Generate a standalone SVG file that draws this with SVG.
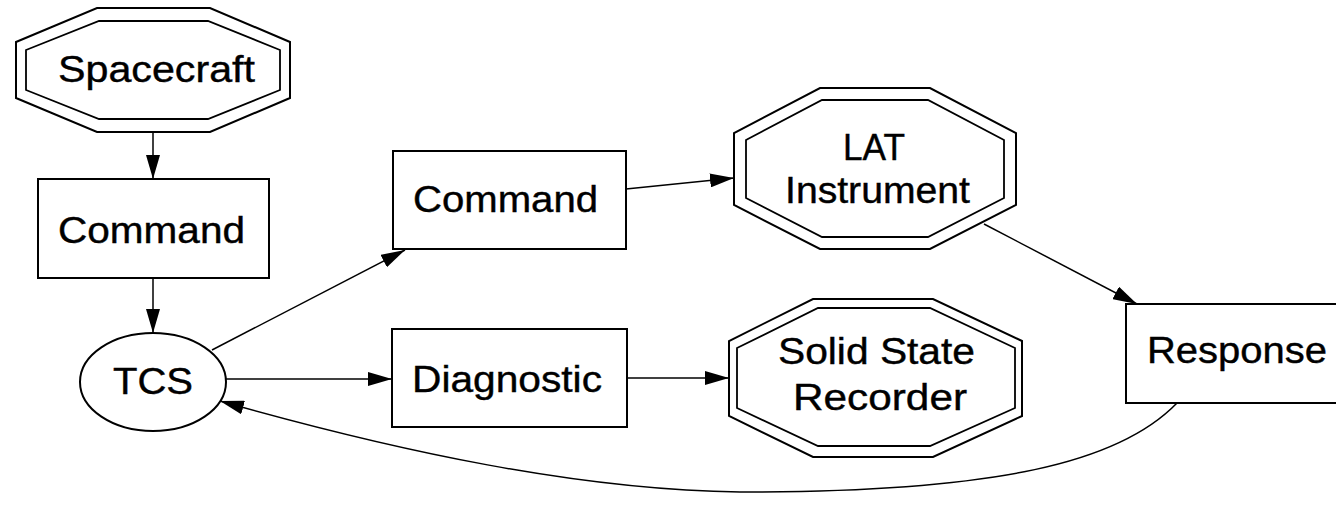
<svg xmlns="http://www.w3.org/2000/svg" width="1336" height="508" viewBox="0 0 1336 508">
  <style>
    .shape { fill: #ffffff; stroke: #000000; stroke-width: 2; }
    .ring { fill: none; stroke: #000000; stroke-width: 1.8; }
    .edge { fill: none; stroke: #000000; stroke-width: 1.5; }
    .label { font-family: "Liberation Sans", Arial, sans-serif; font-size: 36px; fill: #000000; stroke: #000000; stroke-width: 0.4; }
  </style>
  <defs>
    <marker id="arrow" viewBox="0 0 24 14" refX="24" refY="7" markerWidth="24" markerHeight="14" markerUnits="userSpaceOnUse" orient="auto">
      <path d="M0,0 L24,7 L0,14 z" fill="#000000"/>
    </marker>
  </defs>
  <rect width="1336" height="508" fill="#ffffff"/>

  <!-- connectors -->
  <g id="edges">
    <path class="edge" d="M153,132 L153,179" marker-end="url(#arrow)"/>
    <path class="edge" d="M153,278 L153,333" marker-end="url(#arrow)"/>
    <path class="edge" d="M212,350 L405,250" marker-end="url(#arrow)"/>
    <path class="edge" d="M226,379 L392,379" marker-end="url(#arrow)"/>
    <path class="edge" d="M626,189 L734,178" marker-end="url(#arrow)"/>
    <path class="edge" d="M627,378 L729,378" marker-end="url(#arrow)"/>
    <path class="edge" d="M984,224 L1137,304" marker-end="url(#arrow)"/>
    <path class="edge" d="M1177,403 C1120,462 1000,492 740,492 C580,490 400,452 220,401" marker-end="url(#arrow)"/>
  </g>

  <!-- nodes -->
  <g id="spacecraft">
    <polygon class="shape" points="97,8 210,8 290,42 290,98 210,132 97,132 16,98 16,42"/>
    <polygon class="ring" points="99,21 208,21 280,50 280,90 208,119 99,119 26,90 26,50"/>
    <text class="label" x="58" y="82" textLength="197" lengthAdjust="spacingAndGlyphs">Spacecraft</text>
  </g>

  <g id="command-1">
    <rect class="shape" x="38" y="179" width="231" height="99"/>
    <text class="label" x="58" y="243" textLength="187" lengthAdjust="spacingAndGlyphs">Command</text>
  </g>

  <g id="tcs">
    <ellipse class="shape" cx="153" cy="382" rx="73" ry="49"/>
    <text class="label" x="113" y="394" textLength="80" lengthAdjust="spacingAndGlyphs">TCS</text>
  </g>

  <g id="command-2">
    <rect class="shape" x="393" y="151" width="233" height="98"/>
    <text class="label" x="413" y="212" textLength="185" lengthAdjust="spacingAndGlyphs">Command</text>
  </g>

  <g id="lat-instrument">
    <polygon class="shape" points="820,88 930,88 1016,133 1016,205 930,249 820,249 734,205 734,133"/>
    <polygon class="ring" points="822,100 928,100 1004,140 1004,198 928,237 822,237 746,198 746,140"/>
    <text class="label" x="843" y="160" textLength="62" lengthAdjust="spacingAndGlyphs">LAT</text>
    <text class="label" x="785" y="203" textLength="185" lengthAdjust="spacingAndGlyphs">Instrument</text>
  </g>

  <g id="diagnostic">
    <rect class="shape" x="392" y="329" width="235" height="98"/>
    <text class="label" x="412" y="392" textLength="190" lengthAdjust="spacingAndGlyphs">Diagnostic</text>
  </g>

  <g id="solid-state-recorder">
    <polygon class="shape" points="813,299 933,299 1022,341 1022,416 933,457 813,457 729,416 729,341"/>
    <polygon class="ring" points="818,308 930,308 1015,348 1015,408 930,446 818,446 737,408 737,348"/>
    <text class="label" x="778" y="364" textLength="197" lengthAdjust="spacingAndGlyphs">Solid State</text>
    <text class="label" x="793" y="410" textLength="174" lengthAdjust="spacingAndGlyphs">Recorder</text>
  </g>

  <g id="response">
    <rect class="shape" x="1126" y="304" width="230" height="99"/>
    <text class="label" x="1147" y="363" textLength="180" lengthAdjust="spacingAndGlyphs">Response</text>
  </g>
</svg>
